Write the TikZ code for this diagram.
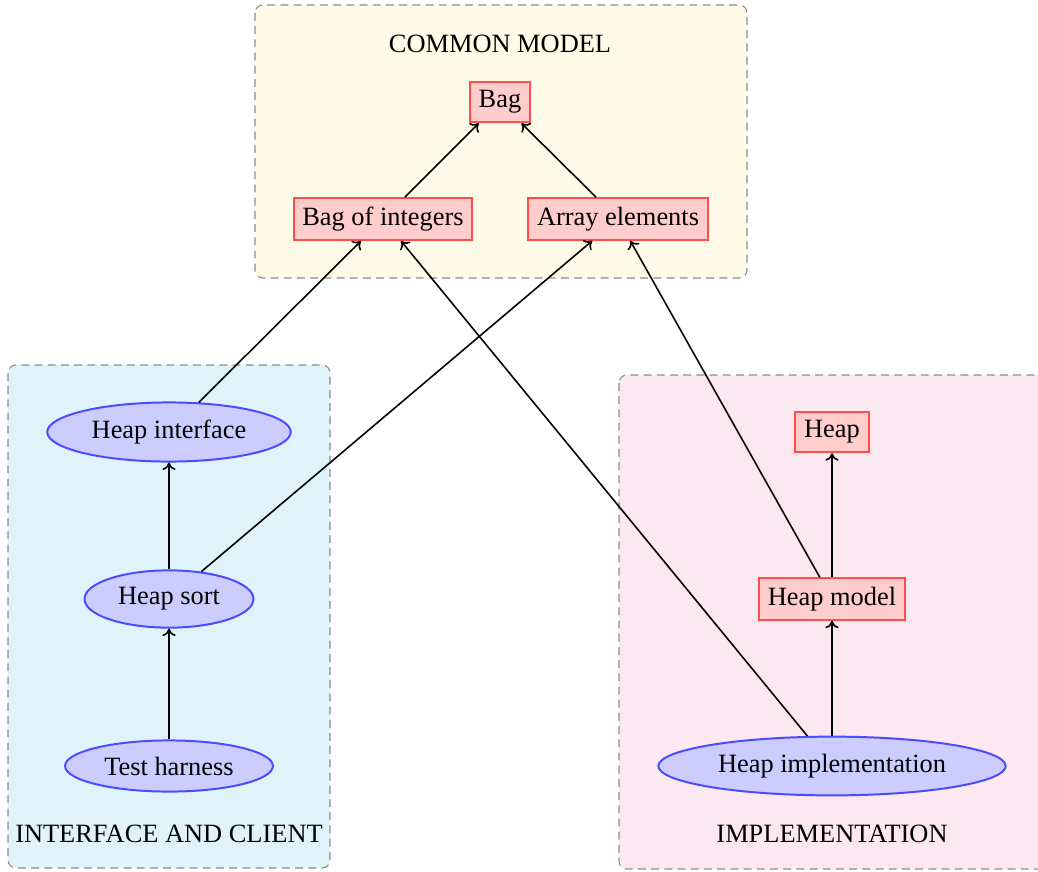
\documentclass[tikz,border=0pt]{standalone}
\usepackage{fontspec}
\setmainfont{Liberation Serif}
\usetikzlibrary{shapes.geometric,arrows.meta}
\definecolor{cmbg}{RGB}{254,251,232}
\definecolor{icbg}{RGB}{224,242,250}
\definecolor{imbg}{RGB}{252,232,241}
\tikzset{
  group/.style={draw=gray!90, dash pattern=on 3pt off 2pt, rounded corners=3pt, line width=0.4pt},
  model/.style={draw=red!70, fill=red!20, rectangle, line width=0.75pt},
  code/.style={draw=blue!70, fill=blue!20, ellipse, line width=0.75pt},
  dep/.style={-{To[length=2.8pt,width=5pt]}, line width=0.6pt},
  title/.style={inner sep=0pt}
}
\begin{document}
\begin{tikzpicture}[x=0.3788pt, y=-0.3788pt]
\clip (0,0) rectangle (1038,871);
\useasboundingbox (0,0) rectangle (1038,871);
% group backgrounds
\path[group, fill=cmbg] (255,5) rectangle (747,278);
\path[group, fill=icbg] (8,365) rectangle (330,868);
\path[group, fill=imbg] (619,375) rectangle (1048,869);
\node[title] (tcm) at (500,44) {COMMON MODEL};
\node[title] (tic) at (169,834) {INTERFACE AND CLIENT};
\node[title] (tim) at (832,834) {IMPLEMENTATION};
% common model
\node[model] (bag) at (500,102) {Bag};
\node[model] (boi) at (383,219) {Bag of integers};
\node[model] (ae) at (618,219) {Array elements};
% interface and client
\node[code] (hi) at (169,432) {Heap interface};
\node[code] (hs) at (169,599) {Heap sort};
\node[code] (th) at (169,766) {Test harness};
% implementation
\node[model] (heap) at (832,432) {Heap};
\node[model] (hm) at (832,599) {Heap model};
\node[code] (himp) at (832,766) {Heap implementation};
% edges
\draw[dep] (boi) -- (bag);
\draw[dep] (ae) -- (bag);
\draw[dep] (hi) -- (boi);
\draw[dep] (hs) -- (ae);
\draw[dep] (himp) -- (boi);
\draw[dep] (hm) -- (ae);
\draw[dep] (hm) -- (heap);
\draw[dep] (himp) -- (hm);
\draw[dep] (th) -- (hs);
\draw[dep] (hs) -- (hi);
\end{tikzpicture}
\end{document}
